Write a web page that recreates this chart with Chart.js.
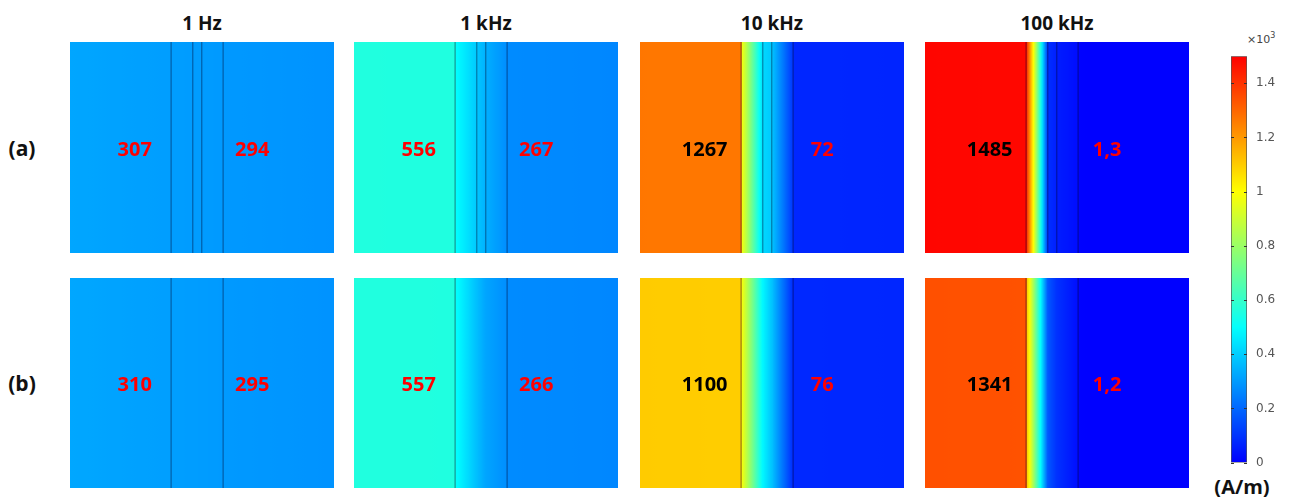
<!DOCTYPE html>
<html>
<head>
<meta charset="utf-8">
<script src="https://cdn.jsdelivr.net/npm/chart.js@4.4.1/dist/chart.umd.min.js"></script>
<style>
  body { margin: 0; background: #fff; }
  #wrap { position: relative; width: 1291px; height: 497px; overflow: hidden; font-family: "Open Sans", sans-serif; }
  #wrap canvas { position: absolute; }
  .txt { position: absolute; font-weight: bold; color: #111; white-space: nowrap; }
  .title { font-size: 19px; line-height: 24px; text-align: center; width: 264px; top: 11px; }
  .row { font-size: 21px; line-height: 30px; left: 0; width: 44px; text-align: center; }
  .unit { font-size: 20px; line-height: 28px; left: 1212px; width: 60px; text-align: center; top: 473px; }
  .mult { position: absolute; left: 1247px; top: 31px; font-family: "DejaVu Sans", sans-serif; font-size: 11px; color: #444; }
  .mult sup { font-size: 8px; }
</style>
</head>
<body>
<div id="wrap">
  <div class="mult">&times;10<sup>3</sup></div>
  <div class="txt unit">(A/m)</div>
</div>
<script>
const frequencies = ['1 Hz', '1 kHz', '10 kHz', '100 kHz'];
const rowNames = ['(a)', '(b)'];

// layer edges across the thickness (0 = left face, 1 = right face)
const layerEdges = [0, 0.383, 0.465, 0.499, 0.58, 1];
const interfacesA = [0.383, 0.465, 0.499, 0.58];
const interfacesB = [0.383, 0.58];

// |H| in A/m at the start / end of each layer, row (a)
const hA_1Hz   = [[322, 306], [305, 303], [303, 302], [302, 298], [297, 284]];
const hA_1kHz  = [[558, 556], [500, 390], [385, 345], [340, 275], [270, 262]];
const hA_10kHz = [[1268, 1266], [1000, 420], [420, 390], [385, 100], [75, 70]];
const hA_100kHz = [[1490, 1485], [1450, 100], [90, 60], [55, 25], [3, 1]];
// row (b)
const hB_1Hz   = [[324, 308], [307, 305], [305, 303], [303, 299], [298, 285]];
const hB_1kHz  = [[559, 557], [505, 370], [370, 320], [320, 275], [270, 262]];
const hB_10kHz = [[1102, 1098], [1000, 480], [480, 380], [380, 80], [78, 74]];
const hB_100kHz = [[1343, 1340], [1150, 170], [170, 95], [95, 25], [3, 1]];

// printed values
const leftA  = ['307', '556', '1267', '1485'];
const rightA = ['294', '267', '72', '1,3'];
const leftB  = ['310', '557', '1100', '1341'];
const rightB = ['295', '266', '76', '1,2'];

// colour bar, x10^3 A/m
const cbTicks = [0, 0.2, 0.4, 0.6, 0.8, 1, 1.2, 1.4];
const cbMax = 1.5;

// ---------- layout / style ----------
const panelLeft = [70, 354, 640, 925];
const rowTop = [42, 278];
const panelH = [211, 210];
const panelW = 264;
const leftTextColor = ['#ff0000', '#ff0000', '#000', '#000'];
const labelAt = [0.245, 0.69];

const cmapStops = [[0, [0, 0, 255]], [0.33, [0, 255, 255]], [0.667, [255, 255, 0]], [1, [255, 0, 0]]];
function cmap(h) {
  let t = Math.min(Math.max(h / (cbMax * 1000), 0), 1);
  for (let i = 1; i < cmapStops.length; i++) {
    const [t1, c1] = cmapStops[i];
    const [t0, c0] = cmapStops[i - 1];
    if (t <= t1) {
      const f = (t - t0) / (t1 - t0);
      const c = c0.map((v, k) => Math.round(v + (c1[k] - v) * f));
      return 'rgb(' + c.join(',') + ')';
    }
  }
  return 'rgb(255,0,0)';
}

const wrap = document.getElementById('wrap');
function makeCanvas(left, top, w, h) {
  const c = document.createElement('canvas');
  c.width = w; c.height = h;
  c.style.left = left + 'px'; c.style.top = top + 'px';
  c.style.width = w + 'px'; c.style.height = h + 'px';
  wrap.appendChild(c);
  return c;
}
function addText(cls, text, css) {
  const d = document.createElement('div');
  d.className = 'txt ' + cls;
  d.textContent = text;
  Object.assign(d.style, css);
  wrap.appendChild(d);
}

function segmentFill(ctx) {
  const chart = ctx.chart;
  const ds = ctx.dataset;
  if (!chart.chartArea || !chart.scales.x) return cmap(ds.h[0]);
  const x = chart.scales.x;
  const p0 = x.getPixelForValue(ds.data[0][0]);
  const p1 = x.getPixelForValue(ds.data[0][1]);
  const g = chart.ctx.createLinearGradient(p0, 0, p1, 0);
  for (let k = 0; k <= 12; k++) {
    g.addColorStop(k / 12, cmap(ds.h[0] + (ds.h[1] - ds.h[0]) * k / 12));
  }
  return g;
}

const interfacePlugin = {
  id: 'interfaces',
  afterDatasetsDraw(chart, args, opts) {
    const {ctx, chartArea, scales} = chart;
    ctx.save();
    ctx.strokeStyle = 'rgba(0,0,40,0.38)';
    ctx.lineWidth = 1.3;
    opts.at.forEach(v => {
      const px = scales.x.getPixelForValue(v);
      ctx.beginPath();
      ctx.moveTo(px, chartArea.top);
      ctx.lineTo(px, chartArea.bottom);
      ctx.stroke();
    });
    ctx.restore();
  }
};

const valuePlugin = {
  id: 'values',
  afterDraw(chart, args, opts) {
    const {ctx, chartArea, scales} = chart;
    ctx.save();
    ctx.font = 'bold 20px "Open Sans"';
    ctx.textAlign = 'center';
    ctx.textBaseline = 'alphabetic';
    const y = (chartArea.top + chartArea.bottom) / 2 + 8;
    opts.items.forEach(it => {
      ctx.fillStyle = it.color;
      ctx.fillText(it.text, scales.x.getPixelForValue(it.x), y);
    });
    ctx.restore();
  }
};

function drawPanel(col, row, profile, lines, texts) {
  const canvas = makeCanvas(panelLeft[col], rowTop[row], panelW, panelH[row]);
  const datasets = profile.map((h, i) => ({
    data: [[layerEdges[i], layerEdges[i + 1]]],
    h: h,
    backgroundColor: segmentFill,
    borderWidth: 0,
    inflateAmount: 0.6
  }));
  new Chart(canvas, {
    type: 'bar',
    data: { labels: ['H'], datasets: datasets },
    options: {
      indexAxis: 'y',
      responsive: false,
      animation: false,
      events: [],
      layout: { padding: 0 },
      datasets: { bar: { grouped: false, categoryPercentage: 1, barPercentage: 1 } },
      scales: {
        x: { type: 'linear', min: 0, max: 1, display: false },
        y: { display: false }
      },
      plugins: {
        legend: { display: false },
        tooltip: { enabled: false },
        interfaces: { at: lines },
        values: { items: texts }
      }
    },
    plugins: [interfacePlugin, valuePlugin]
  });
}

const profilesA = [hA_1Hz, hA_1kHz, hA_10kHz, hA_100kHz];
const profilesB = [hB_1Hz, hB_1kHz, hB_10kHz, hB_100kHz];

frequencies.forEach((f, i) => {
  addText('title', f, { left: panelLeft[i] + 'px' });
  drawPanel(i, 0, profilesA[i], interfacesA, [
    { x: labelAt[0], text: leftA[i], color: leftTextColor[i] },
    { x: labelAt[1], text: rightA[i], color: '#ff0000' }
  ]);
  drawPanel(i, 1, profilesB[i], interfacesB, [
    { x: labelAt[0], text: leftB[i], color: leftTextColor[i] },
    { x: labelAt[1], text: rightB[i], color: '#ff0000' }
  ]);
});
addText('row', rowNames[0], { top: '133px' });
addText('row', rowNames[1], { top: '368px' });

// colour bar
function cbFill(ctx) {
  const chart = ctx.chart;
  if (!chart.chartArea || !chart.scales.y) return cmap(0);
  const y = chart.scales.y;
  const g = chart.ctx.createLinearGradient(0, y.getPixelForValue(0), 0, y.getPixelForValue(cbMax));
  for (let k = 0; k <= 30; k++) g.addColorStop(k / 30, cmap(cbMax * 1000 * k / 30));
  return g;
}
const cbTickPlugin = {
  id: 'cbticks',
  afterDatasetsDraw(chart) {
    const {ctx, chartArea, scales} = chart;
    ctx.save();
    ctx.strokeStyle = '#333';
    ctx.lineWidth = 1;
    cbTicks.forEach(v => {
      const py = Math.round(scales.y.getPixelForValue(v)) + 0.5;
      ctx.beginPath();
      ctx.moveTo(chartArea.left, py); ctx.lineTo(chartArea.left + 3, py);
      ctx.moveTo(chartArea.right - 3, py); ctx.lineTo(chartArea.right, py);
      ctx.stroke();
    });
    ctx.restore();
  }
};
new Chart(makeCanvas(1225, 40, 66, 440), {
  type: 'bar',
  data: {
    labels: ['H'],
    datasets: [{
      data: [[0, cbMax]],
      backgroundColor: cbFill,
      borderColor: '#555',
      borderWidth: 1,
      borderSkipped: false,
      categoryPercentage: 1,
      barPercentage: 1
    }]
  },
  options: {
    responsive: false,
    animation: false,
    events: [],
    layout: { padding: { left: 6, right: 10, top: 4, bottom: 17.4 } },
    plugins: { legend: { display: false }, tooltip: { enabled: false } },
    scales: {
      x: { display: false },
      y: {
        position: 'right',
        min: 0,
        max: cbMax,
        grid: { display: false, drawTicks: false },
        border: { display: false },
        afterBuildTicks: s => { s.ticks = cbTicks.map(v => ({ value: v })); },
        afterFit: s => { s.width = 34; },
        ticks: {
          padding: 9,
          color: '#555',
          font: { family: 'DejaVu Sans', size: 12 },
          callback: v => String(v)
        }
      }
    }
  },
  plugins: [cbTickPlugin]
});
</script>
</body>
</html>
